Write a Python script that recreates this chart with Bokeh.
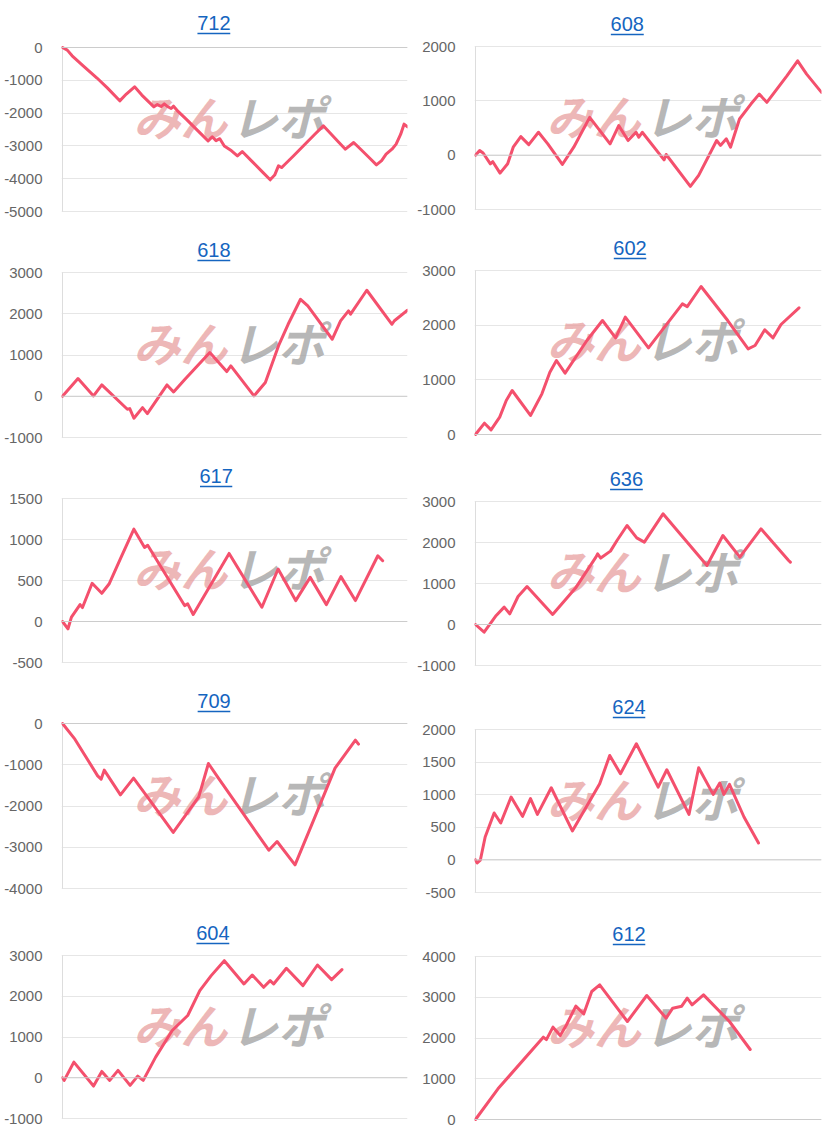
from bokeh.plotting import figure
from bokeh.layouts import row, column
from bokeh.models import Range1d, FixedTicker, Span, NumeralTickFormatter
from bokeh.embed import file_html
from bokeh.resources import INLINE
from bokeh.core.properties import value

# ---------------- data ----------------
titles = ["712", "608", "618", "602", "617", "636", "709", "624", "604", "612"]

x_712 = [0, 1.4, 2.8, 6, 10, 13, 16.6, 18.5, 20.9, 23, 26.5, 27.5, 28.6, 29.5, 30.3, 31.5, 32.2, 33.5, 36, 40,
         42.2, 43.4, 44.5, 45.6, 46.9, 49, 50.7, 52.1, 55, 58, 60.2, 61.5, 62.6, 63.5, 64.5, 67, 70, 73, 75.6,
         77.5, 80, 82, 84.4, 86.5, 89, 91, 92.5, 93.8, 95.5, 96.7, 98, 99, 100]
y_712 = [0, -80, -254, -560, -930, -1230, -1626, -1420, -1199, -1450, -1809, -1740, -1800, -1720, -1790, -1860,
         -1790, -1950, -2200, -2620, -2845, -2723, -2840, -2780, -3003, -3150, -3303, -3171, -3480, -3800, -4034,
         -3890, -3608, -3660, -3560, -3300, -2980, -2660, -2388, -2600, -2880, -3100, -2896, -3110, -3370, -3577,
         -3450, -3252, -3100, -2947, -2650, -2337, -2418]

x_608 = [0, 1.2, 2.2, 4.3, 5, 7.1, 9.3, 10.9, 13.1, 15.4, 18.2, 20.9, 25.1, 28.4, 33, 38.9, 41.4, 44.1, 46.4,
         47.2, 48.2, 54.5, 55.1, 62.1, 64.5, 69.7, 70.8, 72.5, 73.7, 76.3, 79.6, 82, 84.2, 90, 93.1, 95.7, 100]
y_608 = [0, 86, 40, -159, -120, -330, -159, 147, 342, 195, 421, 208, -171, 147, 696, 208, 544, 269, 421, 330,
         421, -86, 12, -574, -373, 269, 180, 300, 147, 666, 941, 1124, 972, 1460, 1737, 1492, 1155]

x_618 = [0, 4.5, 9, 11.4, 18.8, 19.5, 20.7, 23.2, 24.6, 30.3, 32.2, 35.5, 42.7, 47.6, 48.8, 55.5, 58.8, 62.6,
         65.4, 69, 71.1, 78.2, 80.6, 82.9, 83.5, 88.2, 95.5, 96.2, 100]
y_618 = [0, 428, 8, 275, -315, -300, -533, -275, -420, 275, 105, 412, 1059, 598, 735, 8, 331, 1220, 1745, 2351,
         2190, 1382, 1826, 2069, 1990, 2570, 1745, 1830, 2085]

x_602 = [0, 2.6, 4.5, 7, 8.9, 10.6, 15.9, 19.2, 21.5, 23.4, 25.9, 32.2, 36.7, 40.5, 43.3, 50, 59.8, 61.2, 65.2,
         72.9, 78.8, 80.8, 83.6, 86, 88.3, 93.5]
y_602 = [0, 207, 85, 317, 622, 805, 348, 744, 1140, 1354, 1122, 1720, 2085, 1768, 2146, 1585, 2390, 2340, 2707,
         2085, 1567, 1628, 1915, 1768, 2012, 2317]

x_617 = [0, 1.6, 2.6, 5.1, 5.8, 8.6, 11.4, 13.5, 17.2, 20.7, 23.8, 24.7, 35.4, 36.3, 37.9, 48.3, 57.8, 62.5,
         67.6, 71.8, 76.5, 80.7, 84.9, 91.4, 92.8]
y_617 = [0, -89, 53, 206, 170, 466, 344, 457, 802, 1126, 903, 930, 194, 215, 85, 830, 174, 640, 255, 538, 206,
         547, 255, 802, 741]

x_636 = [0, 2.5, 6, 8.3, 9.9, 12.3, 14.9, 22.3, 29.1, 34.8, 35.3, 36.2, 39, 40.9, 43.8, 46.6, 48.8, 54.2, 66.9,
         71.5, 76.4, 82.5, 90.5, 91]
y_636 = [0, -187, 220, 423, 260, 683, 927, 244, 911, 1642, 1724, 1620, 1789, 2049, 2415, 2114, 2008, 2699, 1439,
         2171, 1642, 2333, 1561, 1520]

x_709 = [0, 3.6, 10.2, 11.2, 12.1, 16.8, 20.6, 25.3, 32.1, 39.5, 42.3, 45.2, 59.8, 62.2, 67.4, 72.1, 79, 84.9, 85.8]
y_709 = [0, -380, -1269, -1350, -1131, -1729, -1325, -1859, -2642, -1778, -970, -1325, -3071, -2861, -3426, -2481,
         -1083, -404, -501]

x_624 = [0, 0.5, 1.4, 2.8, 5.4, 7.3, 10.3, 13.6, 15.9, 17.9, 21.9, 28, 35.9, 38.8, 41.9, 46.5, 52.8, 55.3, 61.7,
         64.5, 68.7, 70.6, 71.8, 73.4, 77.6, 81.8]
y_624 = [0, -46, -5, 352, 719, 566, 964, 668, 939, 699, 1107, 444, 1168, 1602, 1321, 1781, 1117, 1383, 699, 1413,
         1005, 1179, 1005, 1158, 658, 260]

x_604 = [0, 0.5, 3.3, 9, 11.4, 13.7, 16.1, 19.6, 21.8, 23.4, 27, 31.8, 36.3, 39.8, 43.1, 46.9, 52.6, 55, 58.3,
         60.2, 61.2, 64.9, 69.7, 73.9, 78, 81]
y_604 = [0, -65, 384, -204, 155, -65, 180, -188, 41, -65, 506, 1159, 1527, 2139, 2506, 2873, 2302, 2522, 2220,
         2384, 2300, 2686, 2261, 2767, 2408, 2653]

x_612 = [0, 6.5, 19.6, 20.5, 22.4, 24.5, 26.2, 29, 31.3, 33.6, 35.9, 43.9, 49.5, 55.1, 57, 59.6, 61.2, 62.6,
         65.9, 73.4, 79.4]
y_612 = [0, 753, 2020, 1960, 2266, 2061, 2307, 2781, 2593, 3141, 3305, 2405, 3043, 2487, 2732, 2781, 2978, 2814,
         3059, 2405, 1718]

ticks_712 = [0, -1000, -2000, -3000, -4000, -5000]
ticks_608 = [-1000, 0, 1000, 2000]
ticks_618 = [-1000, 0, 1000, 2000, 3000]
ticks_602 = [0, 1000, 2000, 3000]
ticks_617 = [-500, 0, 500, 1000, 1500]
ticks_636 = [-1000, 0, 1000, 2000, 3000]
ticks_709 = [-4000, -3000, -2000, -1000, 0]
ticks_624 = [-500, 0, 500, 1000, 1500, 2000]
ticks_604 = [-1000, 0, 1000, 2000, 3000]
ticks_612 = [0, 1000, 2000, 3000, 4000]

series = {
    "712": (x_712, y_712, ticks_712), "608": (x_608, y_608, ticks_608),
    "618": (x_618, y_618, ticks_618), "602": (x_602, y_602, ticks_602),
    "617": (x_617, y_617, ticks_617), "636": (x_636, y_636, ticks_636),
    "709": (x_709, y_709, ticks_709), "624": (x_624, y_624, ticks_624),
    "604": (x_604, y_604, ticks_604), "612": (x_612, y_612, ticks_612),
}

# ---------------- layout (page px of each panel) ----------------
geom = {
    "712": dict(col=0, top=0, bot=224, axis=57, right=408, gt=47, gb=211, tx=211, ty=22),
    "618": dict(col=0, top=224, bot=450, axis=57, right=408, gt=272, gb=437, tx=211, ty=249),
    "617": dict(col=0, top=450, bot=675, axis=50, right=407, gt=498, gb=662, tx=209, ty=475),
    "709": dict(col=0, top=675, bot=905, axis=57, right=410, gt=723, gb=888, tx=212, ty=700),
    "604": dict(col=0, top=905, bot=1134, axis=62, right=413, gt=955, gb=1118, tx=215, ty=932),
    "608": dict(col=1, top=0, bot=222, axis=471, right=822, gt=46, gb=209, tx=625, ty=23),
    "602": dict(col=1, top=222, bot=450, axis=466, right=822, gt=270, gb=434, tx=625, ty=247),
    "636": dict(col=1, top=450, bot=680, axis=468, right=821, gt=501, gb=665, tx=622, ty=478),
    "624": dict(col=1, top=680, bot=906, axis=471, right=827, gt=729, gb=892, tx=629, ty=706),
    "612": dict(col=1, top=906, bot=1134, axis=471, right=827, gt=956, gb=1119, tx=629, ty=933),
}

LINE = "#f4506d"
FONT = "Liberation Sans"
JP = "Noto Sans CJK JP"
W = 414


def make_panel(name):
    xs, ys, ticks = series[name]
    g = geom[name]
    fig_left = 0 if g["col"] == 0 else 414
    fig_right = fig_left + W
    H = g["bot"] - g["top"]
    a = g["axis"] - fig_left
    fr = min(g["right"], fig_right)
    mbr = fig_right - fr
    k = 100.0 / (g["right"] - g["axis"])
    x0 = -1.0 * k
    x1 = (fr - g["axis"]) * k
    ymax, ymin = max(ticks), min(ticks)
    dpp = (ymax - ymin) / float(g["gb"] - g["gt"])
    y1 = ymax + (g["gt"] - g["top"]) * dpp
    y0 = ymin - (g["bot"] - g["gb"]) * dpp

    p = figure(width=W, height=H, x_range=Range1d(x0, x1), y_range=Range1d(y0, y1),
               output_backend="svg", toolbar_location=None, x_axis_location=None,
               title=None, min_border_left=a - 1, min_border_right=mbr,
               min_border_top=0, min_border_bottom=0)
    p.outline_line_color = None
    p.background_fill_color = "white"
    p.border_fill_color = "white"

    ax = p.yaxis[0]
    ax.ticker = FixedTicker(ticks=ticks)
    ax.formatter = NumeralTickFormatter(format="0")
    ax.axis_line_color = None
    ax.major_tick_line_color = None
    ax.minor_tick_line_color = None
    ax.major_label_text_font = FONT
    ax.major_label_text_font_size = "15px"
    ax.major_label_text_color = "#666666"
    ax.major_label_standoff = 13

    p.ygrid.ticker = FixedTicker(ticks=ticks)
    p.ygrid.grid_line_color = "#e6e6e6"
    p.xgrid.grid_line_color = None

    if ymin <= 0 <= ymax:
        p.add_layout(Span(location=0, dimension="width", line_color="#cccccc", line_width=1))
    # y-axis line
    p.segment(x0=[0], y0=[ymin], x1=[0], y1=[ymax], line_color="#dddddd", line_width=1)

    # watermark
    xc = ((g["axis"] + g["right"]) / 2.0 - g["axis"]) * k
    yc = ymax - (((g["gt"] + g["gb"]) / 2.0 - 14) - g["gt"]) * dpp
    p.text(x=[xc - 8 * k], y=[yc], text=["みん"], text_align="right", text_baseline="middle",
           text_font=value(JP), text_font_size="47px", text_font_style="bold italic",
           text_color="#e79c9c", text_alpha=0.72)
    p.text(x=[xc - 4 * k], y=[yc], text=["レポ"], text_align="left", text_baseline="middle",
           text_font=value(JP), text_font_size="47px", text_font_style="bold italic",
           text_color="#a0a0a0", text_alpha=0.75)

    # data line
    p.line(xs, ys, line_color=LINE, line_width=3, line_join="round", line_cap="round")

    # title (link style)
    tx = (g["tx"] - g["axis"]) * k
    ty = ymax + (g["gt"] - g["ty"]) * dpp
    p.text(x=[tx], y=[ty], text=[name], text_align="center", text_baseline="middle",
           text_font=value(FONT), text_font_size="20px", text_color="#1565c0")
    uy = ymax + (g["gt"] - (g["ty"] + 11)) * dpp
    half = 16.7 * k
    p.segment(x0=[tx - half], y0=[uy], x1=[tx + half], y1=[uy], line_color="#1565c0", line_width=1.5)
    return p


left = column(*[make_panel(n) for n in ["712", "618", "617", "709", "604"]], spacing=0)
right = column(*[make_panel(n) for n in ["608", "602", "636", "624", "612"]], spacing=0)
layout = row(left, right, spacing=0)

open("out.html", "w").write(file_html(layout, INLINE))
